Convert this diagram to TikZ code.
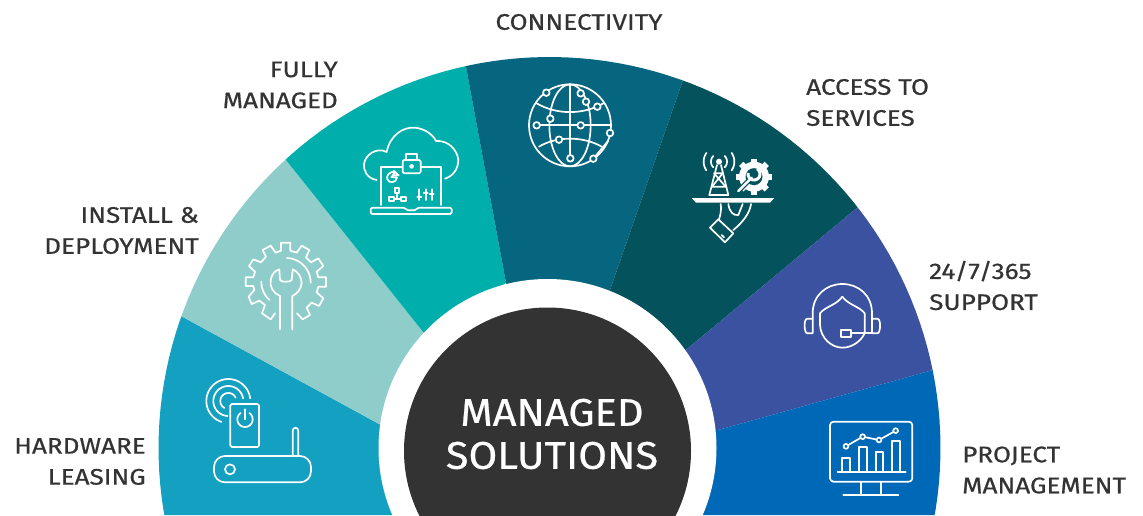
\documentclass[tikz,border=0pt]{standalone}
\usepackage{fontspec}
\setmainfont{Fira Sans}
\newfontfamily\lblfont{Fira Sans}[FakeStretch=1.16,FakeBold=0.6]
\newfontfamily\ttlfont{Fira Sans}[FakeStretch=1.08,FakeBold=0.6]
\definecolor{cHard}{HTML}{14A0C0}
\definecolor{cInst}{HTML}{8FCDCB}
\definecolor{cFull}{HTML}{00AEAC}
\definecolor{cConn}{HTML}{07667F}
\definecolor{cAcc}{HTML}{03525C}
\definecolor{cSupp}{HTML}{3A52A0}
\definecolor{cProj}{HTML}{0069B7}
\definecolor{cDark}{HTML}{333333}
\newcommand{\parc}[5]{plot[samples=40,domain=#4:#5] ({#1+#3*cos(\x)},{#2+#3*sin(\x)})}
\tikzset{
  lbl/.style={font=\lblfont\fontsize{22.5}{31}\selectfont,text=cDark,inner sep=0pt},
  ico/.style={draw=white,line width=1.7pt,line cap=round,line join=round},
  zoomed/.style={x=0.33333pt,y=-0.33333pt},
}
\begin{document}
\begin{tikzpicture}[x=1pt,y=-1pt]
\useasboundingbox (0,0) rectangle (1143,515);
% wedges
\begin{scope}
  \path[clip] plot[samples=120,domain=160:380] ({549.5+391*cos(\x)},{448+391*sin(\x)}) -- cycle;
  \clip (0,0) rectangle (1143,515);
  \fill[cHard] (0,515) -- (0,213) -- (181,316) -- (380,424.5) -- (549.5,515) -- cycle;
  \fill[cInst] (104,63) -- (286,160) -- (424,333) -- (549.5,448) -- (380,424.5) -- (181,316) -- (0,213) -- cycle;
  \fill[cFull] (200,52) -- (286,160) -- (424,333) -- (506,283) -- (466,67) -- (450,-20) -- cycle;
  \fill[cConn] (450,-20) -- (466,67) -- (506,283) -- (549.5,448) -- (610,290) -- (683,80) -- (715,-20) -- cycle;
  \fill[cAcc] (715,-20) -- (683,80) -- (610,290) -- (549.5,448) -- (687,349) -- (858,207) -- (1000,90) -- cycle;
  \fill[cSupp] (1000,90) -- (858,207) -- (687,349) -- (549.5,448) -- (718,430) -- (933,370) -- (1143,311) -- cycle;
  \fill[cProj] (1143,311) -- (933,370) -- (718,430) -- (549.5,448) -- (549.5,515) -- (1143,515) -- cycle;
\end{scope}
\fill[white] (547.5,448) circle[radius=169pt];
\begin{scope}
\clip (0,0) rectangle (1143,515);
\fill[cDark] (547.5,451) circle[radius=143.5pt];
\end{scope}
\node[font=\ttlfont\fontsize{38.5}{43}\selectfont,text=white,align=center,inner sep=0pt] (title) at (552,434) {MANAGED\\SOLUTIONS};
% labels
\node[lbl,align=center,anchor=center] (lconn) at (579,22) {CONNECTIVITY};
\node[lbl,align=right,anchor=east] (lfull) at (338,85) {FULLY\\MANAGED};
\node[lbl,align=right,anchor=east] (linst) at (199,230.5) {INSTALL \&\\DEPLOYMENT};
\node[lbl,align=right,anchor=east] (lhard) at (146,461.5) {HARDWARE\\LEASING};
\node[lbl,align=left,anchor=west] (lacc) at (806,102.5) {ACCESS TO\\SERVICES};
\node[lbl,align=left,anchor=west] (lsupp) at (929,285.5) {24/7/365\\SUPPORT};
\node[lbl,align=left,anchor=west] (lproj) at (962,470) {PROJECT\\MANAGEMENT};
% icons: gear + wrench, router
\begin{scope}[shift={(150,230)},zoomed]
  \begin{scope}[ico]
  \draw (375,250) -- (362,268) -- (336,250)
    -- (345,225) -- (328,212) -- (305,222) -- (296,200) -- (313,180) -- (310,168) -- (287,168) -- (287,142) -- (310,142) -- (315,125) -- (297,108) -- (310,88) -- (333,97) -- (348,80) -- (338,60) -- (362,47) -- (377,68) -- (393,62) -- (393,38) -- (421,38) -- (421,62) -- (440,68) -- (455,47) -- (478,60) -- (468,82) -- (483,97) -- (505,85) -- (520,108) -- (500,125) -- (505,142) -- (528,142) -- (528,170) -- (505,170) -- (500,187) -- (520,205) -- (507,228) -- (485,218) -- (470,233) -- (480,255) -- (458,268) -- (441,250);
  \draw (390,298) -- (390,198) .. controls (370,190) and (358,170) .. (362,150) .. controls (365,132) and (375,122) .. (388,118) -- (390,150) .. controls (392,157) and (422,157) .. (425,150) -- (428,118) .. controls (445,125) and (455,142) .. (455,160) .. controls (453,178) and (440,192) .. (427,198) -- (427,298);
  \draw \parc{408}{158}{74}{-88}{0};
  \draw \parc{408}{155}{74}{132}{180};
  % router
  \draw[rounded corners=11pt] (192,678) rectangle (483,757);
  \draw (240,718) circle[radius=5pt];
  \draw (428,675) -- (428,603) .. controls (428,590) and (445,590) .. (445,603) -- (445,675);
  \draw[rounded corners=1.5pt] (241,522) rectangle (327,651);
  \draw \parc{285}{568}{23}{-55}{235};
  \draw (285,538) -- (285,568);
  \draw \parc{235}{513}{66}{108}{353};
  \draw \parc{235}{513}{45}{93}{350};
  \draw \parc{235}{513}{24}{120}{335};
  \end{scope}
\end{scope}
% cloud laptop + globe
\begin{scope}[shift={(340,70)},zoomed]
  \begin{scope}[ico]
  \draw (110,330) .. controls (80,325) and (70,300) .. (72,282) .. controls (75,255) and (110,230) .. (140,246)
    .. controls (150,195) and (190,170) .. (225,173) .. controls (255,176) and (280,195) .. (288,213)
    .. controls (325,210) and (352,240) .. (355,270) .. controls (355,300) and (335,320) .. (315,326);
  \draw (123,405) -- (123,290) -- (187,290);
  \draw (243,290) -- (303,290) -- (303,405);
  \draw[rounded corners=1.5pt] (188,270) rectangle (242,310);
  \draw (198,270) -- (198,252) -- (232,252) -- (232,270);
  \draw (215,289) circle[radius=1.7pt];
  \draw (165,307) .. controls (145,302) and (138,322) .. (142,328) .. controls (148,342) and (170,338) .. (171,322) -- (154,322) -- cycle;
  \draw (161,302) -- (176,316) -- (161,316) -- cycle;
  \draw (165,355) rectangle (178,368);
  \draw (172,368) -- (172,387);
  \draw (147,380) rectangle (162,394);
  \draw (183,380) rectangle (198,394);
  \draw (162,387) -- (183,387);
  \draw (238,358) -- (238,390) (232,380) -- (244,380);
  \draw (257,358) -- (257,390) (251,368) -- (263,368);
  \draw (275,358) -- (275,390) (269,372) -- (281,372);
  \draw[rounded corners=1.5pt] (92,413) -- (195,413) -- (200,421) -- (228,421) -- (232,413) -- (335,413) -- (335,432) -- (92,432) -- cycle;
  % globe
  \draw (690,166) circle[radius=41pt];
  \draw (690,166) ellipse[x radius=62,y radius=123];
  \draw (690,42) -- (690,265);
  \draw (590,166) -- (812,166);
  \draw (590,100) .. controls (650,135) and (730,135) .. (790,100);
  \draw (597,230) .. controls (650,198) and (730,198) .. (785,230);
  \draw (760,266) -- (805,212);
  \foreach \px/\py in {619/68,722/70,738/95,772/110,631/146,590/166,722/166,810/189,657/209,691/265,760/266}
    \draw[fill=cConn] (\px,\py) circle[radius=3.3pt];
  \end{scope}
\end{scope}
% tower, gear, tray, hand
\begin{scope}[shift={(670,130)},zoomed]
  \fill[white] (65,204) -- (313,204) -- (300,218) -- (78,218) -- cycle;
  \begin{scope}[ico]
  \draw (141,105) -- (118,195) (153,105) -- (175,195);
  \draw (136,130) -- (158,130) -- (126,170) -- (167,170) -- (132,130);
  \draw (118,195) -- (175,195);
  \fill[white] (147,95) circle[radius=3pt];
  \draw \parc{147}{95}{24}{135}{225};
  \draw \parc{147}{95}{24}{-45}{45};
  \draw \parc{147}{95}{46}{145}{215};
  \draw \parc{147}{95}{46}{-35}{35};
  \draw (120,293) -- (145,268) -- (190,310) -- (165,337) -- cycle;
  \draw (152,222) .. controls (155,245) and (150,258) .. (147,268);
  \draw (175,222) .. controls (178,245) and (190,258) .. (205,255) -- (218,222);
  \draw (243,222) .. controls (240,250) and (215,280) .. (190,300);
  \draw (155,315) -- (162,322);
  \end{scope}
  \foreach \a in {0,45,...,315}
    \fill[white,shift={(252,140)},rotate=\a] (-9,0) rectangle (9,54);
  \fill[white] (252,140) circle[radius=15pt];
  \fill[cAcc] (252,140) circle[radius=8.5pt];
  \draw[cAcc,line width=5pt,line cap=round] (205,183) -- (245,143);
  \draw[white,line width=2.5pt,line cap=round] (205,183) -- (245,143);
  \draw[white,line width=3pt] \parc{252}{132}{18}{-60}{190};
\end{scope}
% headset + monitor
\begin{scope}[shift={(790,270)},zoomed]
  \begin{scope}[ico]
  \draw (68,188) -- (68,130) .. controls (68,75) and (110,42) .. (157,42) .. controls (205,42) and (246,75) .. (246,130) -- (246,188);
  \draw (68,146) -- (52,146) .. controls (40,146) and (42,190) .. (52,190) -- (68,190);
  \draw (246,146) -- (262,146) .. controls (274,146) and (272,190) .. (262,190) -- (246,190);
  \draw (157,80) .. controls (140,105) and (105,110) .. (90,130) -- (90,165) .. controls (92,205) and (125,233) .. (157,233) .. controls (185,233) and (212,215) .. (224,190);
  \draw (157,80) .. controls (175,105) and (210,110) .. (224,130) -- (224,190);
  \draw (153,180) rectangle (182,200);
  \draw (182,190) -- (246,190);
  \draw[rounded corners=3.5pt] (120,455) rectangle (367,635);
  \draw (212,635) -- (212,675) (274,635) -- (274,675);
  \draw (160,674) -- (325,674);
  \draw (143,605) -- (347,605);
  \draw (157,605) -- (157,565) -- (179,565) -- (179,605);
  \draw (207,605) -- (207,532) -- (230,532) -- (230,605);
  \draw (257,605) -- (257,547) -- (279,547) -- (279,605);
  \draw (307,605) -- (307,513) -- (329,513) -- (329,605);
  \draw (168,529) -- (218,500) -- (267,510) -- (317,482);
  \foreach \px/\py in {168/529,218/500,267/510,317/482}
    \draw[fill=cProj] (\px,\py) circle[radius=2.4pt];
  \end{scope}
\end{scope}
\end{tikzpicture}
\end{document}
